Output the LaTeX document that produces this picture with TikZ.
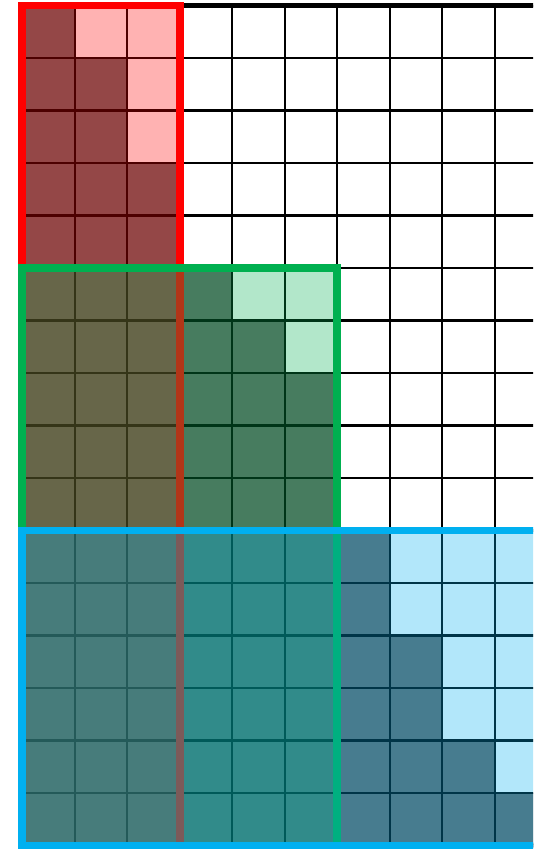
\documentclass[tikz,border=0pt]{standalone}
\usepackage{xcolor}
\usepackage{tikz}
\definecolor{maskred}{RGB}{255, 0, 0}
\definecolor{maskgreen}{RGB}{0, 176, 80}
\definecolor{maskblue}{RGB}{0, 176, 240}

\begin{document}
\begin{tikzpicture}[y=-1cm]
    \clip (-0.425,-0.105) rectangle (9.728,16.067);
    % shaded cells, row by row (row / number of cells)
    \foreach \r/\n in {0/1,1/2,2/2,3/3,4/3,5/4,6/5,7/6,8/6,9/6,10/7,11/7,12/8,13/8,14/9,15/10}
        \fill[black!60] (0,\r) rectangle (\n,\r+1);
    \draw[line width=1.1pt] (0,0) grid (10,16);
    \draw[line width=3pt] (0,0) rectangle (10,16);
    % the three blocks
    \draw[maskred, line width=4.3pt, fill=maskred, fill opacity=0.3] (0,0) rectangle (3,16);
    \draw[maskgreen, line width=4.3pt, fill=maskgreen, fill opacity=0.3] (0,5) rectangle (6,16);
    \draw[maskblue, line width=4.3pt, fill=maskblue, fill opacity=0.3] (0,10) rectangle (10,16);
\end{tikzpicture}
\end{document}
